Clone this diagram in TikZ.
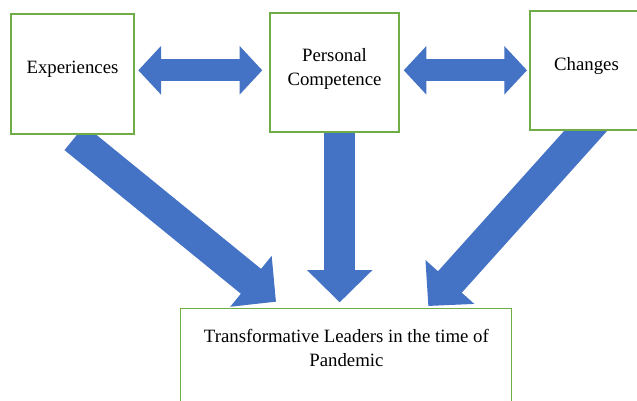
\documentclass[tikz,border=0pt]{standalone}
\usepackage{fontspec}
\setmainfont{Liberation Serif}
\usetikzlibrary{arrows.meta,backgrounds}
\definecolor{boxgreen}{HTML}{70AD47}
\definecolor{arrowblue}{HTML}{4472C4}
\begin{document}
\begin{tikzpicture}[x=1pt,y=-1pt,
  box/.style={draw=boxgreen,line width=1.2pt,fill=white,inner sep=0pt,rectangle},
  txt/.style={font=\fontsize{18.8}{24}\selectfont,inner sep=0pt,align=center},
  pairarrow/.style={arrowblue,line width=22.3pt,
    {Triangle[length=22.7pt,width=47.3pt]}-{Triangle[length=22.7pt,width=47.3pt]}},
  bigarrow/.style={arrowblue,line width=32pt,-{Triangle[length=32.3pt,width=63.7pt]}}]
  \clip (0,0) rectangle (637,400);
  \useasboundingbox (0,0) rectangle (637,400);

  % boxes
  \node[box,minimum width=123pt,minimum height=120pt] (exp) at (72.5,74) {};
  \node[box,minimum width=129pt,minimum height=119pt] (pc) at (334.5,72.5) {};
  \node[box,minimum width=113pt,minimum height=119pt] (chg) at (586.5,70.5) {};
  \node[box,minimum width=331pt,minimum height=112pt] (tl) at (346.2,364.3) {};

  % labels
  \node[txt,anchor=base] (expt) at (72.5,73.7) {Experiences};
  \node[txt] (pct) at (334.5,69.2) {Personal\\Competence};
  \node[txt,anchor=base] (chgt) at (586.5,70.7) {Changes};
  \node[txt] (tlt) at (346.4,347.9) {Transformative Leaders in the time of\\Pandemic};

  % end points of the block arrows
  \coordinate (a1) at (138.3,70.3);
  \coordinate (b1) at (262.3,70.3);
  \coordinate (a2) at (403.7,70.3);
  \coordinate (b2) at (527,70.3);
  \coordinate (s1) at (74.6,137.7);
  \coordinate (t1) at (276,301.7);
  \coordinate (s2) at (339.7,125);
  \coordinate (t2) at (339.7,302.3);
  \coordinate (s3) at (604.4,110);
  \coordinate (t3) at (428.3,306);

  % block arrows behind the boxes
  \begin{scope}[on background layer]
    \draw[pairarrow] (a1) -- (b1);
    \draw[pairarrow] (a2) -- (b2);
    \draw[bigarrow] (s1) -- (t1);
    \draw[bigarrow,line width=31pt] (s2) -- (t2);
    \draw[bigarrow] (s3) -- (t3);
  \end{scope}
\end{tikzpicture}
\end{document}
